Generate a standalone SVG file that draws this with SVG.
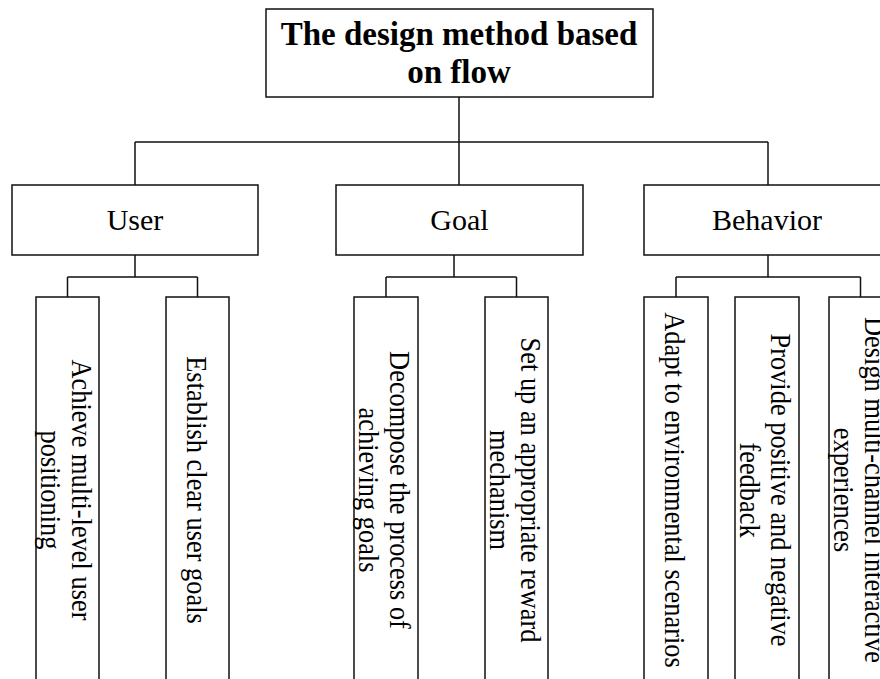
<svg xmlns="http://www.w3.org/2000/svg" width="880" height="679" viewBox="0 0 880 679">
<style>
  .box{fill:#fff;stroke:#111;stroke-width:1.5}
  .ln{fill:none;stroke:#111;stroke-width:1.5}
  .t{font-family:"Liberation Serif","Times New Roman",serif;fill:#000}
  .title{font-size:33px;font-weight:bold;text-anchor:middle}
  .l2{font-size:30px;text-anchor:middle}
  .leaf{font-size:30px;text-anchor:middle}
</style>
<rect width="880" height="679" fill="#fff"/>
<g id="connectors">
  <path class="ln" d="M459,97 V185 M135,142 H768 M135,142 V185 M768,142 V185"/>
  <path class="ln" d="M135,255 V277 M67.5,277 H197.5 M67.5,277 V297 M197.5,277 V297"/>
  <path class="ln" d="M454,255 V277 M386,277 H516.5 M386,277 V297 M516.5,277 V297"/>
  <path class="ln" d="M768,255 V277 M676,277 H860.5 M676,277 V297 M860.5,277 V297"/>
</g>
<g id="root">
  <rect class="box" x="266" y="9" width="387" height="88"/>
  <text class="t title" x="459" y="45">The design method based</text>
  <text class="t title" x="459" y="83">on flow</text>
</g>
<g id="user">
  <rect class="box" x="12" y="185" width="246" height="70"/>
  <text class="t l2" x="135" y="230">User</text>
</g>
<g id="goal">
  <rect class="box" x="336" y="185" width="247" height="70"/>
  <text class="t l2" x="459.5" y="230">Goal</text>
</g>
<g id="behavior">
  <rect class="box" x="644" y="185" width="246" height="70"/>
  <text class="t l2" x="767" y="230">Behavior</text>
</g>
<g id="leaf-achieve">
  <rect class="box" x="36" y="297" width="63" height="395"/>
  <g transform="translate(67.5,490) rotate(90) scale(0.88,1)">
    <text class="t leaf" x="0" y="-4.5">Achieve multi-level user</text>
    <text class="t leaf" x="0" y="26.5">positioning</text>
  </g>
</g>
<g id="leaf-establish">
  <rect class="box" x="166" y="297" width="63" height="395"/>
  <g transform="translate(197.5,490) rotate(90) scale(0.88,1)">
    <text class="t leaf" x="0" y="10.5">Establish clear user goals</text>
  </g>
</g>
<g id="leaf-decompose">
  <rect class="box" x="354" y="297" width="64" height="395"/>
  <g transform="translate(386,490) rotate(90) scale(0.88,1)">
    <text class="t leaf" x="0" y="-4.5">Decompose the process of</text>
    <text class="t leaf" x="0" y="26.5">achieving goals</text>
  </g>
</g>
<g id="leaf-reward">
  <rect class="box" x="485" y="297" width="63" height="395"/>
  <g transform="translate(516.5,490) rotate(90) scale(0.88,1)">
    <text class="t leaf" x="0" y="-4.5">Set up an appropriate reward</text>
    <text class="t leaf" x="0" y="26.5">mechanism</text>
  </g>
</g>
<g id="leaf-adapt">
  <rect class="box" x="644" y="297" width="64" height="395"/>
  <g transform="translate(676,490) rotate(90) scale(0.88,1)">
    <text class="t leaf" x="0" y="10.5">Adapt to environmental scenarios</text>
  </g>
</g>
<g id="leaf-feedback">
  <rect class="box" x="735" y="297" width="64" height="395"/>
  <g transform="translate(767,490) rotate(90) scale(0.88,1)">
    <text class="t leaf" x="0" y="-4.5">Provide positive and negative</text>
    <text class="t leaf" x="0" y="26.5">feedback</text>
  </g>
</g>
<g id="leaf-multichannel">
  <rect class="box" x="829" y="297" width="63" height="395"/>
  <g transform="translate(860.5,490) rotate(90) scale(0.88,1)">
    <text class="t leaf" x="0" y="-4.5">Design multi-channel interactive</text>
    <text class="t leaf" x="0" y="26.5">experiences</text>
  </g>
</g>
</svg>
